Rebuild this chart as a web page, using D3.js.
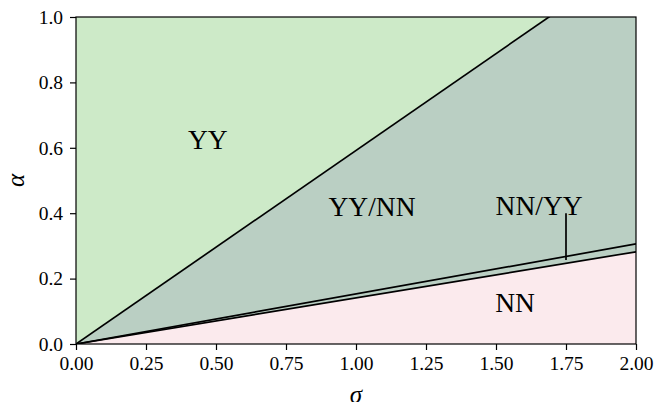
<!DOCTYPE html>
<html>
<head>
<meta charset="utf-8">
<script src="https://cdn.jsdelivr.net/npm/d3@7"></script>
<style>
  html, body { margin: 0; padding: 0; background: #fff; }
</style>
</head>
<body>
<svg id="chart" width="654" height="402"></svg>
<script>
// Phase boundaries alpha = slope * sigma
const boundaryNames = ["YY", "YY/NN", "NN/YY"];
const boundarySlopes = [0.592, 0.153, 0.141];

// Region fills
const regionNames = ["YY", "YY/NN", "NN"];
const regionColors = ["#cdeac8", "#bacfc3", "#fbeaed"];

// Region labels
const labelNames = ["YY", "YY/NN", "NN/YY", "NN"];
const labelSigma = [0.471, 1.057, 1.654, 1.568];
const labelAlpha = [0.624, 0.422, 0.424, 0.128];

// Pointer from the NN/YY label down into the thin band
const pointerSigma = [1.75, 1.75];
const pointerAlpha = [0.40, 0.257];

const xTicks = [0, 0.25, 0.5, 0.75, 1.0, 1.25, 1.5, 1.75, 2.0];
const yTicks = [0, 0.2, 0.4, 0.6, 0.8, 1.0];

const FONT = '"Liberation Serif", "Times New Roman", serif';
const margin = {left: 76, right: 18, top: 17, bottom: 58};
const W = 654, H = 402;
const svg = d3.select("#chart");

const x = d3.scaleLinear().domain([0, 2]).range([margin.left, W - margin.right]);
const y = d3.scaleLinear().domain([0, 1]).range([H - margin.bottom, margin.top]);

svg.append("defs").append("clipPath").attr("id", "plotclip")
  .append("rect")
  .attr("x", x(0)).attr("y", y(1))
  .attr("width", x(2) - x(0)).attr("height", y(0) - y(1));

const g = svg.append("g").attr("clip-path", "url(#plotclip)");

const sig = [0, 2];
const areaPts = (lower, upper) =>
  sig.map(s => [s, lower(s)]).concat(sig.slice().reverse().map(s => [s, upper(s)]));
const toPath = pts => "M" + pts.map(p => x(p[0]) + "," + y(p[1])).join("L") + "Z";

// filled regions
g.append("path").attr("d", toPath(areaPts(s => boundarySlopes[0] * s, s => 5)))
  .attr("fill", regionColors[0]);
g.append("path").attr("d", toPath(areaPts(s => boundarySlopes[2] * s, s => boundarySlopes[0] * s)))
  .attr("fill", regionColors[1]);
g.append("path").attr("d", toPath(areaPts(s => -1, s => boundarySlopes[2] * s)))
  .attr("fill", regionColors[2]);

// boundary lines
const lineGen = d3.line().x(d => x(d[0])).y(d => y(d[1]));
boundarySlopes.forEach(sl => {
  g.append("path").attr("d", lineGen(sig.map(s => [s, sl * s])))
    .attr("fill", "none").attr("stroke", "#000").attr("stroke-width", 1.7);
});

// pointer
g.append("path")
  .attr("d", lineGen(pointerSigma.map((s, i) => [s, pointerAlpha[i]])))
  .attr("stroke", "#000").attr("stroke-width", 1.7).attr("fill", "none");

// region labels
labelNames.forEach((t, i) => {
  svg.append("text").attr("x", x(labelSigma[i])).attr("y", y(labelAlpha[i]))
    .attr("text-anchor", "middle").attr("dominant-baseline", "central")
    .style("font-family", FONT).style("font-size", "27.5px").attr("fill", "#000").text(t);
});

// frame
svg.append("rect")
  .attr("x", x(0)).attr("y", y(1))
  .attr("width", x(2) - x(0)).attr("height", y(0) - y(1))
  .attr("fill", "none").attr("stroke", "#000").attr("stroke-width", 1.2);

// axes
const xAxis = d3.axisBottom(x).tickValues(xTicks).tickFormat(d3.format(".2f")).tickSize(6).tickPadding(6);
const yAxis = d3.axisLeft(y).tickValues(yTicks).tickFormat(d3.format(".1f")).tickSize(6).tickPadding(7);

const gx = svg.append("g").attr("transform", `translate(0,${y(0)})`).call(xAxis);
const gy = svg.append("g").attr("transform", `translate(${x(0)},0)`).call(yAxis);
[gx, gy].forEach(a => {
  a.select(".domain").remove();
  a.selectAll("line").attr("stroke", "#000").attr("stroke-width", 1.2);
  a.selectAll("text").style("font-family", FONT).style("font-size", "19.5px").attr("fill", "#000");
});

// axis titles
svg.append("text").attr("x", x(1)).attr("y", 403)
  .attr("text-anchor", "middle").style("font-family", FONT).style("font-size", "25px")
  .style("font-style", "italic").attr("fill", "#000").text("σ");
svg.append("text").attr("transform", `translate(24,${y(0.5)}) rotate(-90)`)
  .attr("text-anchor", "middle").style("font-family", FONT).style("font-size", "25px")
  .style("font-style", "italic").attr("fill", "#000").text("α");
</script>
</body>
</html>
